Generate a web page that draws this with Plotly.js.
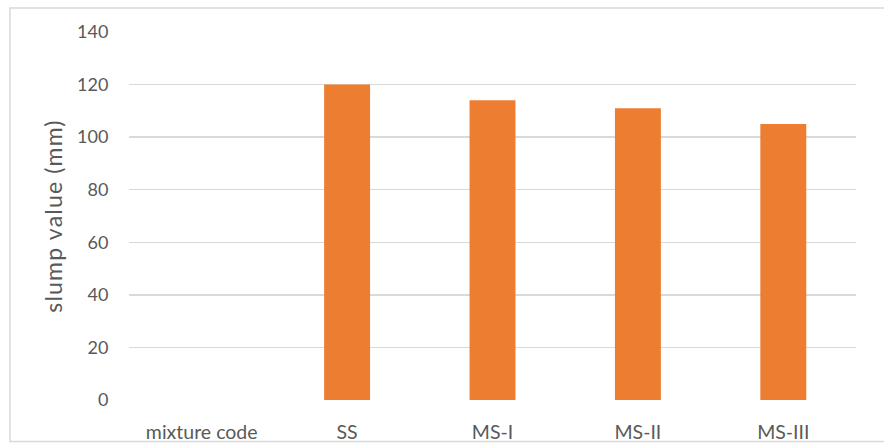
<!DOCTYPE html>
<html>
<head>
<meta charset="utf-8">
<script src="https://cdn.plot.ly/plotly-3.0.1.min.js"></script>
<style>html,body{margin:0;padding:0;background:#fff;}#chart{width:884px;height:443px;}</style>
</head>
<body>
<div id="chart"></div>
<script>
const categories = ["mixture code", "SS", "MS-I", "MS-II", "MS-III"];
const slumpValues = [null, 120, 114, 111, 105];
const yTicks = [0, 20, 40, 60, 80, 100, 120, 140];

const trace = {
  type: "bar",
  x: categories,
  y: slumpValues,
  marker: {color: "#ED7D31"},
  hoverinfo: "x+y"
};

const layout = {
  width: 884,
  height: 443,
  margin: {l: 129, r: 28, t: 32, b: 43},
  paper_bgcolor: "#ffffff",
  plot_bgcolor: "#ffffff",
  font: {family: "Lato, 'Open Sans', sans-serif", size: 18, color: "#595959"},
  bargap: 0.684,
  showlegend: false,
  xaxis: {
    type: "category",
    showgrid: false,
    zeroline: false,
    showline: false,
    ticks: "outside",
    ticklen: 15,
    tickcolor: "rgba(0,0,0,0)",
    tickfont: {size: 19.5, color: "#595959"}
  },
  yaxis: {
    range: [0, 140],
    tickvals: yTicks,
    showgrid: true,
    gridcolor: "#D9D9D9",
    gridwidth: 1.3,
    zeroline: false,
    showline: false,
    ticks: "outside",
    ticklen: 16,
    tickcolor: "rgba(0,0,0,0)",
    tickfont: {size: 18, color: "#595959"},
    title: {text: "slump value (mm)", font: {size: 23, color: "#595959"}, standoff: 8}
  },
  shapes: [{
    type: "rect", xref: "paper", yref: "paper",
    x0: -0.1637, x1: 1.05, y0: -0.1128, y1: 1.0652,
    line: {color: "#D9D9D9", width: 1.5}, fillcolor: "rgba(0,0,0,0)", layer: "below"
  }]
};

Plotly.newPlot("chart", [trace], layout, {displayModeBar: false, staticPlot: true}).then(function () {
  const t = document.querySelector("#chart .ytitle");
  if (t) { t.style.letterSpacing = "1.2px"; }
});
</script>
</body>
</html>
